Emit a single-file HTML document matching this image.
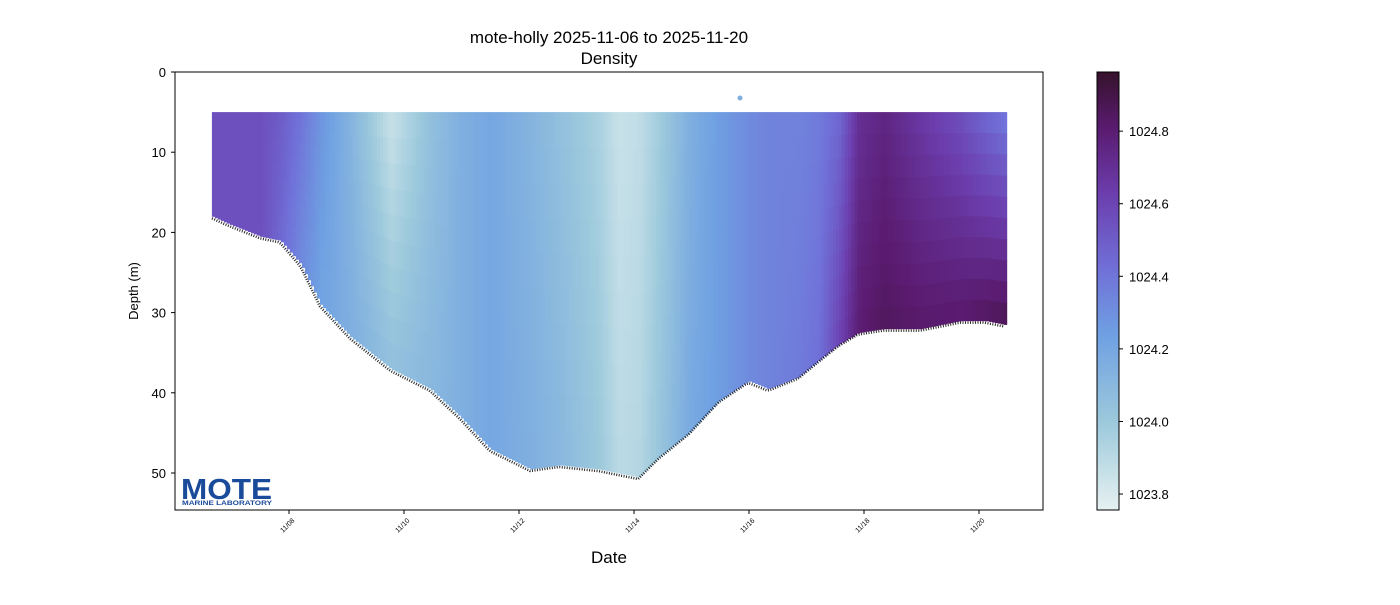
<!DOCTYPE html>
<html><head><meta charset="utf-8"><style>
body{margin:0;background:#fff;font-family:"Liberation Sans",sans-serif;}
svg text{font-family:"Liberation Sans",sans-serif;}
</style></head><body>
<svg id="chart" width="1400" height="600" xmlns="http://www.w3.org/2000/svg">
<defs>
<linearGradient id="cbg" x1="0" y1="1" x2="0" y2="0">
<stop offset="0" stop-color="#e6f1f1"/><stop offset="0.2" stop-color="#9cc9dc"/>
<stop offset="0.4" stop-color="#6fa0e2"/><stop offset="0.55" stop-color="#7070d8"/>
<stop offset="0.72" stop-color="#6c3eae"/><stop offset="0.87" stop-color="#5a1b70"/>
<stop offset="1" stop-color="#36122c"/></linearGradient>
</defs>
<text x="609" y="43" text-anchor="middle" font-size="17">mote-holly 2025-11-06 to 2025-11-20</text>
<text x="609" y="64" text-anchor="middle" font-size="17">Density</text>
<g id="plot"></g>
<rect x="175" y="72" width="868" height="438" fill="none" stroke="#000" stroke-width="1"/>
<g id="yaxis"></g>
<g id="xaxis"></g>
<text x="138" y="291" text-anchor="middle" font-size="13" transform="rotate(-90 138 291)">Depth (m)</text>
<text x="609" y="563" text-anchor="middle" font-size="17">Date</text>
<rect x="1097" y="72" width="22" height="438" fill="url(#cbg)" stroke="#000" stroke-width="1"/>
<g id="cbar"></g>
<g>
<text x="181" y="499" font-size="29" font-weight="bold" fill="#1a4a9a" textLength="91" lengthAdjust="spacingAndGlyphs">MOTE</text>
<text x="182" y="505" font-size="6" font-weight="bold" fill="#1a4a9a" textLength="90" lengthAdjust="spacingAndGlyphs">MARINE LABORATORY</text>
</g>
</svg>
<script>
const times=[0.66,0.97,1.5,1.84,2.2,2.54,3.06,3.76,4.45,4.97,5.49,6.19,6.7,7.37,7.72,8.07,8.42,8.94,9.46,9.98,10.33,10.85,11.19,11.54,11.89,12.33,12.98,13.67,14.1,14.45];
const bottoms=[18,19,20.5,21,24,29,33,37,39.5,43,47,49.5,49,49.5,50,50.5,48,45,41,38.5,39.5,38,36,34,32.5,32,32,31,31,31.5];
const surfDens=[1024.55,1024.55,1024.55,1024.5,1024.4,1024.28,1024.12,1023.85,1024.05,1024.15,1024.2,1024.12,1024.05,1023.95,1023.85,1023.88,1023.98,1024.15,1024.25,1024.32,1024.35,1024.35,1024.38,1024.45,1024.7,1024.75,1024.65,1024.55,1024.45,1024.38];
const botDens=[1024.55,1024.55,1024.55,1024.45,1024.32,1024.22,1024.15,1024.05,1024.1,1024.15,1024.2,1024.15,1024.1,1024.0,1023.9,1023.92,1024.02,1024.18,1024.25,1024.32,1024.35,1024.38,1024.42,1024.6,1024.8,1024.85,1024.82,1024.82,1024.85,1024.88];
const yTicks=[0,10,20,30,40,50];
const xTickDays=[2,4,6,8,10,12,14];
const xTickLabels=["11/08","11/10","11/12","11/14","11/16","11/18","11/20"];
const cbTicks=[1023.8,1024.0,1024.2,1024.4,1024.6,1024.8];
const NS="http://www.w3.org/2000/svg";
const X=d=>174+d*57.5, Y=m=>72+m*8.02;
const dMin=1023.756,dMax=1024.963, CB=v=>510-(v-dMin)/(dMax-dMin)*438;
const stops=[[0,[230,241,241]],[0.2,[156,201,220]],[0.4,[111,160,226]],[0.55,[112,112,216]],[0.72,[108,62,174]],[0.87,[90,27,112]],[1,[54,18,44]]];
function col(v){let t=Math.max(0,Math.min(1,(v-dMin)/(dMax-dMin)));for(let i=1;i<stops.length;i++){if(t<=stops[i][0]){const a=stops[i-1],b=stops[i],f=(t-a[0])/(b[0]-a[0]);return `rgb(${a[1].map((c,k)=>Math.round(c+(b[1][k]-c)*f)).join(',')})`;}}return 'rgb(54,18,44)';}
function lerp(arr,d){for(let i=1;i<times.length;i++){if(d<=times[i]){const f=(d-times[i-1])/(times[i]-times[i-1]);return arr[i-1]+(arr[i]-arr[i-1])*f;}}return arr[arr.length-1];}
function mk(tag,attrs,parent){const e=document.createElementNS(NS,tag);for(const k in attrs)e.setAttribute(k,attrs[k]);parent.appendChild(e);return e;}
const plot=document.getElementById('plot');
const x0=X(times[0]),x1=X(times[times.length-1]);
let bline=[];
for(let x=x0;x<x1;x+=3){
  const d=(x-174)/57.5, bd=lerp(bottoms,d), sd=lerp(surfDens,d), bdn=lerp(botDens,d);
  const bands=10;
  for(let b=0;b<bands;b++){
    const z0=5+(bd-5)*b/bands, z1=5+(bd-5)*(b+1)/bands, f=(b+0.5)/bands;
    const r=mk('rect',{x:x.toFixed(1),y:Y(z0).toFixed(1),width:3.2,height:(Y(z1)-Y(z0)+0.5).toFixed(1),fill:col(sd+(bdn-sd)*f)},plot);
    
    
  }
  bline.push(`${x.toFixed(1)},${(Y(bd)+2).toFixed(1)}`);
}
const bl=mk('polyline',{points:bline.join(' '),fill:'none',stroke:'#000','stroke-width':2.5,'stroke-dasharray':'1 1.5','stroke-opacity':0.85},plot);


const dot=mk('circle',{cx:740,cy:98,r:2.5,fill:col(1024.15)},plot);


const ya=document.getElementById('yaxis');
yTicks.forEach(v=>{const y=Y(v);
  const l=mk('line',{x1:171,x2:175,y1:y,y2:y,stroke:'#000'},ya);
  
  
  const t=mk('text',{x:166,y:y+5,'text-anchor':'end','font-size':13},ya);t.textContent=v;
  
  });
const xa=document.getElementById('xaxis');
xTickDays.forEach((d,i)=>{const x=X(d);
  const l=mk('line',{x1:x,x2:x,y1:510,y2:514,stroke:'#000'},xa);
  
  
  const t=mk('text',{x:x+6,y:521,'text-anchor':'end','font-size':7,transform:`rotate(-45 ${x+6} 521)`},xa);t.textContent=xTickLabels[i];
  
  });
const cb=document.getElementById('cbar');
cbTicks.forEach(v=>{const y=CB(v);
  const l=mk('line',{x1:1119,x2:1123,y1:y,y2:y,stroke:'#000'},cb);
  
  
  const t=mk('text',{x:1129,y:y+5,'font-size':13},cb);t.textContent=v.toFixed(1);
  
  });
</script>
</body></html>
